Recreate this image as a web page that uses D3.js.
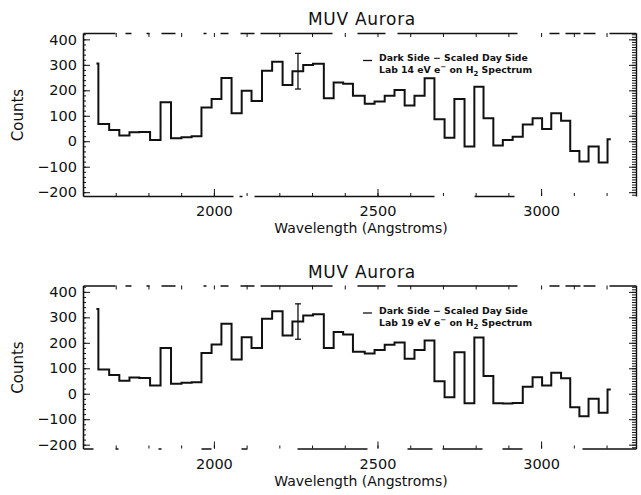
<!DOCTYPE html>
<html>
<head>
<meta charset="utf-8">
<script src="https://cdn.jsdelivr.net/npm/d3@7"></script>
<style>
  body { margin: 0; background: #fff; }
  svg { display: block; }
  text { font-family: "DejaVu Sans", sans-serif; fill: #111; }
  .axis path, .axis line { stroke: #111; }
</style>
</head>
<body>
<svg id="viz" width="641" height="495"></svg>
<script>
// bin edges in Angstroms (one more than the counts)
var binEdges = [1641, 1647, 1680, 1711, 1742, 1772, 1805, 1837, 1869, 1901, 1932,
  1962, 1993, 2023, 2054, 2085, 2115, 2147, 2178, 2210, 2240,
  2273, 2303, 2336, 2366, 2395, 2425, 2461, 2491, 2522, 2552,
  2583, 2613, 2644, 2674, 2705, 2735, 2766, 2796, 2824, 2854,
  2883, 2913, 2944, 2974, 3003, 3031, 3061, 3089, 3117, 3145,
  3176, 3203, 3213]

// dark side - scaled day side, top panel (14 eV)
var countsTop = [305, 68, 44, 23, 35, 36, 5, 153, 12, 16, 20,
  132, 166, 248, 110, 198, 158, 277, 312, 221, 275,
  299, 304, 169, 231, 226, 179, 147, 156, 179, 201,
  140, 179, 247, 86, 14, 166, -21, 214, 90, -17,
  5, 18, 66, 90, 48, 110, 80, -38, -80, -21,
  -83, 8]

// bottom panel (19 eV)
var countsBottom = [333, 95, 74, 51, 64, 62, 32, 180, 39, 43, 45,
  160, 193, 275, 134, 222, 180, 294, 324, 229, 284,
  307, 312, 180, 242, 233, 165, 158, 172, 192, 201,
  137, 172, 209, 49, -14, 163, -37, 221, 70, -37,
  -38, -36, 27, 65, 32, 82, 61, -53, -88, -20,
  -75, 17]

// error bar (one per panel)
var errWave = [2257, 2257]
var errLow = [205, 214]
var errHigh = [345, 353]

var titles = ["MUV Aurora", "MUV Aurora"]
var labEnergy = ["14", "19"]

var yTicks = [-200, -100, 0, 100, 200, 300, 400]
var xTicks = [2000, 2500, 3000]

var svg = d3.select("#viz")

var x = d3.scaleLinear().domain([1600, 3290]).range([83, 636])

var panels = [
  {top: 33, counts: countsTop},
  {top: 285.5, counts: countsBottom}
]

panels.forEach(function(p, k){
    var h = 163
    var y = d3.scaleLinear().domain([-215, 425]).range([p.top + h, p.top])
    var g = svg.append("g")

    // title
    g.append("text")
     .attr("x", 362)
     .attr("y", p.top - 8)
     .attr("text-anchor", "middle")
     .style("font-size", "17px")
     .style("letter-spacing", "0.7px")
     .text(titles[k])

    // left axis, major + minor
    var left = g.append("g").attr("class", "axis")
      .attr("transform", "translate(83,0)")
      .call(d3.axisLeft(y).tickValues(yTicks).tickSizeInner(-7).tickSizeOuter(0).tickPadding(6)
        .tickFormat(function(d){ return d < 0 ? "\u2212" + Math.abs(d) : d }))
    left.select(".domain").attr("stroke-width", 1.6)
    left.selectAll("text").style("font-size", "14.5px")

    g.append("g").attr("class", "axis")
      .attr("transform", "translate(83,0)")
      .call(d3.axisLeft(y).tickValues(d3.range(-200, 421, 20)).tickSize(-3).tickFormat(""))
      .select(".domain").remove()

    // right axis, dense minor ticks
    var right = g.append("g").attr("class", "axis")
      .attr("transform", "translate(636,0)")
      .call(d3.axisRight(y).tickValues(d3.range(-210, 421, 10)).tickSize(-4).tickFormat("").tickSizeOuter(0))
    right.select(".domain").attr("stroke-width", 1.4)
    g.append("g").attr("class", "axis")
      .attr("transform", "translate(636,0)")
      .call(d3.axisRight(y).tickValues(yTicks).tickSize(-7).tickFormat(""))
      .select(".domain").remove()

    // bottom axis
    var bottom = g.append("g").attr("class", "axis")
      .attr("transform", "translate(0," + (p.top + h) + ")")
      .call(d3.axisBottom(x).tickValues(xTicks).tickSizeInner(-7).tickSizeOuter(0).tickPadding(10)
        .tickFormat(d3.format("d")))
    bottom.selectAll("text").style("font-size", "14.5px")
    bottom.select(".domain").attr("stroke-width", 1.5)
      .attr("stroke-dasharray", k == 0 ? "150,6,3,12,180,40,40,200" : "10,22,3,40,3,40,10,30,6,50,70,40,25,10,40,20,20,60,60")
    g.append("g").attr("class", "axis")
      .attr("transform", "translate(0," + (p.top + h) + ")")
      .call(d3.axisBottom(x).tickValues(d3.range(1700, 3290, 100)).tickSize(-3).tickFormat(""))
      .select(".domain").remove()

    // top axis
    var topAx = g.append("g").attr("class", "axis")
      .attr("transform", "translate(0," + p.top + ")")
      .call(d3.axisTop(x).tickValues(d3.range(1700, 3290, 100)).tickSize(-4).tickFormat("").tickSizeOuter(0))
    topAx.select(".domain").attr("stroke-width", 1.5)
      .attr("stroke-dasharray", "32,10,6,15,3,12,14,28,3,14,8,12,14,6,72,25,28,12,120")

    // x label
    g.append("text")
     .attr("x", 361)
     .attr("y", p.top + h + 37)
     .attr("text-anchor", "middle")
     .style("font-size", "14px")
     .text("Wavelength (Angstroms)")

    // y label
    g.append("text")
     .attr("transform", "translate(23," + (p.top + 82) + ") rotate(-90)")
     .attr("text-anchor", "middle")
     .style("font-size", "15px")
     .text("Counts")

    // histogram
    var pts = p.counts.map(function(c, i){ return [binEdges[i], c] })
    pts.push([binEdges[binEdges.length - 1], p.counts[p.counts.length - 1]])
    var line = d3.line()
      .x(function(d){ return x(d[0]) })
      .y(function(d){ return y(d[1]) })
      .curve(d3.curveStepAfter)
    g.append("path")
     .attr("d", line(pts))
     .attr("fill", "none")
     .attr("stroke", "#111")
     .attr("stroke-width", 2)

    // error bar
    var ex = x(errWave[k])
    g.append("line")
     .attr("x1", ex).attr("x2", ex)
     .attr("y1", y(errLow[k])).attr("y2", y(errHigh[k]))
     .attr("stroke", "#111").attr("stroke-width", 1.3)
    ;[errLow[k], errHigh[k]].forEach(function(v){
        g.append("line")
         .attr("x1", ex - 3).attr("x2", ex + 3)
         .attr("y1", y(v)).attr("y2", y(v))
         .attr("stroke", "#111").attr("stroke-width", 1.3)
    })

    // legend
    g.append("line")
     .attr("x1", 363).attr("x2", 372)
     .attr("y1", p.top + 27.5).attr("y2", p.top + 27.5)
     .attr("stroke", "#111").attr("stroke-width", 1.3)
    g.append("text")
     .attr("x", 379).attr("y", p.top + 28)
     .style("font-size", "9.3px")
     .style("font-weight", "bold")
     .text("Dark Side \u2212 Scaled Day Side")
    var t2 = g.append("text")
     .attr("x", 379).attr("y", p.top + 40)
     .style("font-size", "9.3px")
     .style("font-weight", "bold")
    t2.append("tspan").text("Lab " + labEnergy[k] + " eV e")
    t2.append("tspan").attr("dy", -4).style("font-size", "7px").text("\u2212")
    t2.append("tspan").attr("dy", 4).text(" on H")
    t2.append("tspan").attr("dy", 3).style("font-size", "7px").text("2")
    t2.append("tspan").attr("dy", -3).text(" Spectrum")
})
</script>
</body>
</html>
